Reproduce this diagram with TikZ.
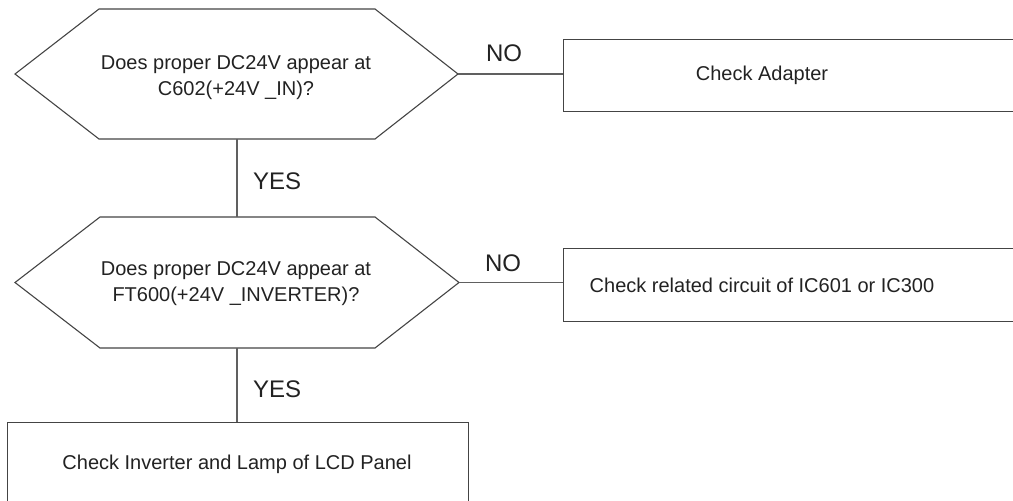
\documentclass[tikz,border=0pt]{standalone}
\usepackage{fontspec}
\setmainfont{Liberation Sans}
\definecolor{ln}{HTML}{444444}
\definecolor{tx}{HTML}{222222}
\begin{document}
\begin{tikzpicture}[x=1pt,y=-1pt,
  hexline/.style={draw=ln,line width=1.1pt,line join=miter},
  boxline/.style={draw=ln,line width=1.3pt},
  conn/.style={draw=ln!85,line width=1.5pt},
  qtext/.style={align=center,text=tx,font=\fontsize{20}{26}\selectfont,inner sep=0pt},
  btext/.style={text=tx,font=\fontsize{20}{24}\selectfont,inner sep=0pt},
  lab/.style={text=tx,font=\fontsize{24}{28}\selectfont,inner sep=0pt}]
\useasboundingbox (0,0) rectangle (1013,501);
\clip (0,0) rectangle (1013,501);
% hexagon 1
\coordinate (h1w) at (15,74);
\coordinate (h1e) at (458,74);
\coordinate (h1s) at (237,139);
\draw[hexline] (h1w) -- (99,9) -- (375,9) -- (h1e) -- (375,139) -- (99,139) -- cycle;
\node[qtext] (q1) at (236,78) {Does proper DC24V appear at\\C602(+24V \_IN)?};
% hexagon 2
\coordinate (h2w) at (15,282.5);
\coordinate (h2e) at (459,282.5);
\coordinate (h2n) at (237,217);
\coordinate (h2s) at (237,348);
\draw[hexline] (h2w) -- (100,217) -- (375,217) -- (h2e) -- (375,348) -- (100,348) -- cycle;
\node[qtext] (q2) at (236,284) {Does proper DC24V appear at\\FT600(+24V \_INVERTER)?};
% boxes
\node[boxline,rectangle,anchor=north west,minimum width=480pt,minimum height=72pt,inner sep=0pt] (b1) at (563,39) {};
\node[btext] (t1) at (762,75) {Check Adapter};
\node[boxline,rectangle,anchor=north west,minimum width=480pt,minimum height=73pt,inner sep=0pt] (b2) at (563,248) {};
\node[btext] (t2) at (762,285) {Check related circuit of IC601 or IC300};
\node[boxline,rectangle,anchor=north west,minimum width=461pt,minimum height=84pt,inner sep=0pt] (b3) at (7,422) {};
\node[btext] (t3) at (237,464) {Check Inverter and Lamp of LCD Panel};
% connectors
\draw[conn] (h1e) -- (h1e -| b1.west);
\draw[conn] (h2e) -- (h2e -| b2.west);
\draw[conn] (h1s) -- (h2n);
\draw[conn] (h2s) -- (h2s |- b3.north);
% labels
\node[lab] (no1) at (504,53) {NO};
\node[lab] (no2) at (503,263) {NO};
\node[lab,anchor=west] (yes1) at (253,181) {YES};
\node[lab,anchor=west] (yes2) at (253,389) {YES};
\end{tikzpicture}
\end{document}
